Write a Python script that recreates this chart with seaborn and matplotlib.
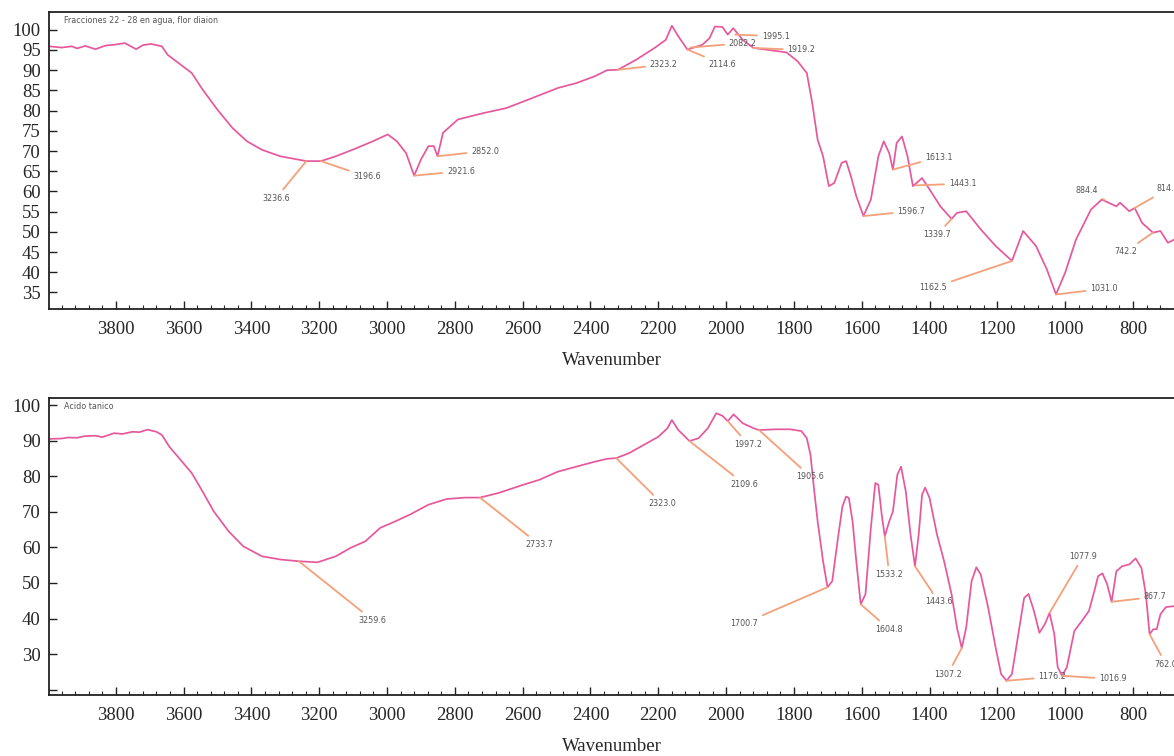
import matplotlib
matplotlib.use("Agg")
import matplotlib.pyplot as plt
from matplotlib.ticker import MultipleLocator
import seaborn as sns
import pandas as pd

# --- top spectrum: Fracciones 22 - 28 en agua, flor diaion ---
top_wn = [3996, 3960, 3930, 3914, 3890, 3860, 3830, 3805, 3773, 3740, 3720, 3696, 3664, 3647,
          3609, 3576, 3544, 3500, 3456, 3413, 3369, 3315, 3238, 3195, 3151, 3096, 3042, 2998,
          2971, 2944, 2920, 2900, 2878, 2862, 2851, 2835, 2791, 2715, 2649, 2584, 2496, 2442,
          2387, 2351, 2319, 2265, 2211, 2178, 2160, 2141, 2114, 2070, 2049, 2033, 2011, 1995,
          1979, 1951, 1919, 1865, 1822, 1789, 1762, 1746, 1730, 1714, 1697, 1681, 1659, 1646,
          1632, 1616, 1595, 1573, 1551, 1535, 1519, 1508, 1497, 1481, 1465, 1449, 1422, 1400,
          1368, 1335, 1319, 1292, 1249, 1205, 1157, 1124, 1086, 1054, 1027, 1000, 968, 924,
          892, 849, 838, 811, 795, 773, 741, 719, 697, 678]
top_T = [95.9, 95.6, 95.9, 95.4, 96.0, 95.2, 96.1, 96.3, 96.7, 95.2, 96.2, 96.5, 95.9, 93.8,
         91.4, 89.3, 85.2, 80.2, 75.7, 72.4, 70.3, 68.7, 67.5, 67.5, 68.7, 70.5, 72.4, 74.1,
         72.4, 69.5, 63.9, 67.9, 71.2, 71.2, 68.7, 74.5, 77.8, 79.4, 80.6, 82.7, 85.6, 86.8,
         88.5, 90.0, 90.1, 92.6, 95.5, 97.5, 101.0, 98.4, 95.1, 96.3, 97.9, 100.8, 100.7, 98.8,
         100.4, 97.5, 95.5, 94.9, 94.4, 92.2, 89.3, 81.9, 72.8, 68.7, 61.3, 62.1, 67.1, 67.5,
         63.8, 58.8, 53.9, 58.0, 68.7, 72.4, 69.5, 65.4, 72.0, 73.6, 68.7, 61.3, 63.3, 60.5,
         56.3, 53.2, 54.7, 55.1, 50.6, 46.5, 42.8, 50.2, 46.5, 40.7, 34.5, 39.9, 48.1, 55.5,
         58.0, 56.3, 57.2, 55.1, 55.9, 52.2, 49.8, 50.2, 47.3, 48.1]

top_lbl = ["3236.6", "3196.6", "2921.6", "2852.0", "2323.2", "2114.6", "2082.2", "1995.1",
           "1919.2", "1613.1", "1443.1", "1596.7", "1339.7", "1162.5", "1031.0", "884.4",
           "814.1", "742.2"]
top_pk_wn = [3238, 3195, 2920, 2851, 2319, 2114, 2105, 1973, 1919, 1508, 1440, 1595, 1335,
             1157, 1027, 884, 795, 741]
top_pk_T = [67.5, 67.5, 63.9, 68.7, 90.1, 95.1, 95.6, 98.8, 95.5, 65.4, 61.5, 53.9, 53.2,
            42.8, 34.5, 57.9, 55.9, 49.8]
top_txt_wn = [3328, 3058, 2782, 2711, 2184, 2011, 1951, 1854, 1778, 1373, 1303, 1454, 1378,
              1389, 886, 935, 697, 822]
top_txt_T = [58.3, 63.6, 65.0, 70.0, 91.4, 91.5, 96.7, 98.4, 95.0, 68.5, 61.9, 55.1, 49.3,
             36.2, 35.9, 60.2, 60.6, 45.1]

# --- bottom spectrum: Acido tanico ---
bot_wn = [3996, 3960, 3940, 3915, 3890, 3860, 3840, 3805, 3780, 3751, 3730, 3707, 3680, 3664,
          3642, 3609, 3576, 3544, 3511, 3467, 3424, 3369, 3315, 3260, 3205, 3151, 3107, 3064,
          3020, 2976, 2933, 2878, 2824, 2769, 2726, 2671, 2605, 2551, 2496, 2442, 2387, 2351,
          2324, 2286, 2243, 2200, 2173, 2160, 2141, 2108, 2081, 2054, 2029, 2011, 1995, 1978,
          1951, 1919, 1903, 1854, 1811, 1778, 1762, 1751, 1741, 1730, 1714, 1701, 1687, 1670,
          1657, 1646, 1638, 1627, 1616, 1603, 1589, 1573, 1560, 1551, 1541, 1532, 1519, 1508,
          1495, 1484, 1470, 1456, 1443, 1432, 1422, 1413, 1400, 1378, 1357, 1335, 1319, 1305,
          1292, 1276, 1262, 1249, 1227, 1205, 1189, 1173, 1157, 1135, 1121, 1108, 1092, 1076,
          1060, 1046, 1032, 1022, 1009, 995, 973, 951, 930, 914, 903, 890, 876, 863, 849, 832,
          811, 792, 775, 762, 751, 740, 730, 719, 703, 678]
bot_T = [90.5, 90.6, 90.9, 90.8, 91.3, 91.4, 91.0, 92.1, 91.9, 92.5, 92.4, 93.1, 92.5, 91.6,
         88.3, 84.6, 80.9, 75.7, 70.1, 64.5, 60.3, 57.5, 56.6, 56.1, 55.8, 57.5, 59.9, 61.7,
         65.5, 67.3, 69.2, 72.0, 73.6, 74.0, 74.0, 75.3, 77.4, 79.0, 81.3, 82.7, 84.1, 84.9,
         85.1, 86.5, 88.8, 91.1, 93.5, 95.8, 93.0, 89.9, 90.7, 93.5, 97.7, 97.0, 95.5, 97.4,
         94.9, 93.5, 93.0, 93.2, 93.2, 92.7, 90.7, 86.0, 76.7, 67.3, 56.1, 48.8, 50.5, 62.7,
         71.5, 74.3, 73.9, 67.3, 56.1, 44.0, 46.8, 65.5, 78.1, 77.6, 69.2, 63.1, 67.3, 70.1,
         80.4, 82.7, 75.7, 63.6, 54.7, 63.6, 74.8, 76.8, 73.9, 63.6, 56.1, 46.8, 37.4, 31.7,
         37.4, 50.5, 54.4, 52.4, 43.0, 31.8, 24.4, 22.5, 24.4, 37.4, 45.8, 46.9, 42.1, 36.0,
         38.4, 41.6, 35.6, 26.3, 23.9, 26.3, 36.5, 39.3, 42.1, 47.7, 51.9, 52.7, 49.6, 44.7,
         53.3, 54.7, 55.2, 56.9, 54.2, 46.8, 35.6, 37.0, 37.0, 41.2, 43.2, 43.5]

bot_lbl = ["3259.6", "2733.7", "2323.0", "2109.6", "1997.2", "1905.6", "1700.7", "1604.8",
           "1533.2", "1443.6", "1307.2", "1176.2", "1016.9", "1077.9", "867.7", "762.0"]
bot_pk_wn = [3260, 2726, 2324, 2108, 1995, 1903, 1701, 1603, 1532, 1443, 1305, 1173, 1009,
             1046, 863, 751]
bot_pk_T = [56.1, 74.0, 85.1, 89.9, 95.5, 93.0, 48.8, 44.0, 63.1, 54.7, 31.7, 22.5, 23.9,
            41.6, 44.7, 35.6]
bot_txt_wn = [3042, 2551, 2189, 1946, 1935, 1751, 1946, 1519, 1519, 1373, 1346, 1038, 859,
              948, 735, 703]
bot_txt_T = [39.5, 60.8, 72.3, 77.8, 89.0, 79.9, 38.7, 37.0, 52.4, 44.7, 24.4, 23.6, 23.0,
             57.4, 46.1, 27.2]

LINE = "#e6589c"
LEAD = "#f4a07a"

sns.set_style("ticks")
plt.rcParams["font.family"] = ["Liberation Serif", "DejaVu Serif"]

fig = plt.figure(figsize=(11.74, 7.56), dpi=100)
ax1 = fig.add_axes([49 / 1174, 1 - 309 / 756, 1 - 49 / 1174, 297 / 756])
ax2 = fig.add_axes([49 / 1174, 1 - 695 / 756, 1 - 49 / 1174, 297 / 756])


def draw(ax, wn, T, lbl, pk_wn, pk_T, tx_wn, tx_T, title, ylim, yticks, ylabels):
    df = pd.DataFrame({"wn": wn, "T": T})
    sns.lineplot(data=df, x="wn", y="T", ax=ax, color=LINE, lw=1.25, sort=False)
    for s, px, py, tx, ty in zip(lbl, pk_wn, pk_T, tx_wn, tx_T):
        ax.annotate(s, xy=(px, py), xytext=(tx, ty), ha="center", va="center",
                    fontsize=5.8, color="#555555", family="DejaVu Sans",
                    arrowprops=dict(arrowstyle="-", color=LEAD, lw=1.3,
                                    shrinkA=1, shrinkB=0))
    ax.text(0.013, 0.97, title, transform=ax.transAxes, fontsize=5.8,
            color="#555555", family="DejaVu Sans", va="center", ha="left")
    ax.set_xlim(3997, 679)
    ax.set_ylim(*ylim)
    ax.set_xticks(range(3800, 699, -200))
    ax.xaxis.set_minor_locator(MultipleLocator(40))
    ax.set_yticks(yticks)
    ax.set_yticklabels(ylabels)
    ax.tick_params(direction="in", length=6, width=1, labelsize=13.5, color="#222222")
    ax.tick_params(axis="x", which="major", pad=9)
    ax.tick_params(axis="y", pad=6)
    ax.tick_params(axis="x", which="minor", direction="in", length=3, width=0.8)
    ax.spines["right"].set_visible(False)
    for sp in ("top", "left", "bottom"):
        ax.spines[sp].set_linewidth(1.3)
        ax.spines[sp].set_color("#222222")
    ax.set_xlabel("Wavenumber", fontsize=13.5, labelpad=10)
    ax.set_ylabel("")


draw(ax1, top_wn, top_T, top_lbl, top_pk_wn, top_pk_T, top_txt_wn, top_txt_T,
     "Fracciones 22 - 28 en agua, flor diaion", (30.9, 104.4),
     list(range(35, 101, 5)), [str(v) for v in range(35, 101, 5)])
draw(ax2, bot_wn, bot_T, bot_lbl, bot_pk_wn, bot_pk_T, bot_txt_wn, bot_txt_T,
     "Acido tanico", (18.5, 102),
     list(range(20, 101, 10)), [""] + [str(v) for v in range(30, 101, 10)])

fig.savefig("out.png", dpi=100)
